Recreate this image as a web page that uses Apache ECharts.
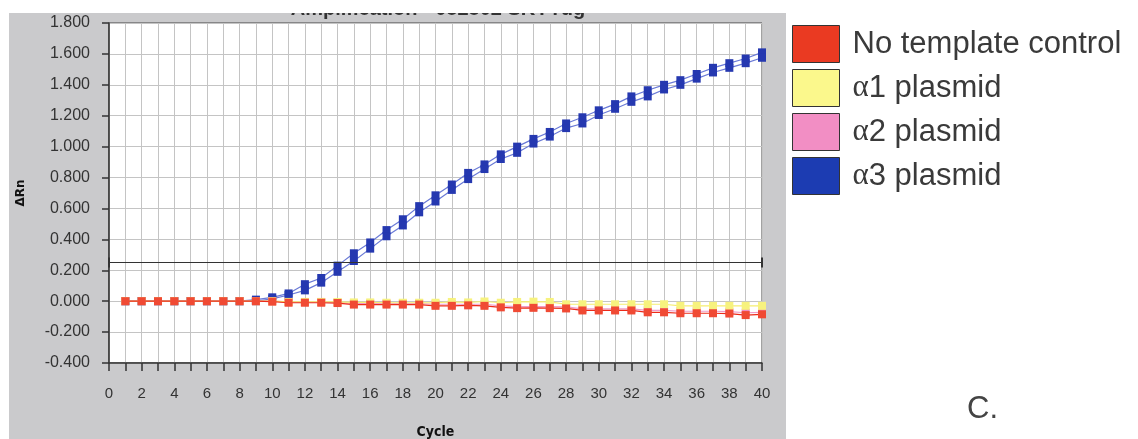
<!DOCTYPE html>
<html><head><meta charset="utf-8">
<script src="https://cdn.jsdelivr.net/npm/echarts@6/dist/echarts.min.js"></script>
<style>html,body{margin:0;padding:0;background:#fff}#c{width:1138px;height:439px}</style>
</head><body><div id="c"></div>
<script>
var cycles = [1,2,3,4,5,6,7,8,9,10,11,12,13,14,15,16,17,18,19,20,21,22,23,24,25,26,27,28,29,30,31,32,33,34,35,36,37,38,39,40];
var alpha3A = [0,0,0,0,0,0,0,0,0.01,0.025,0.05,0.11,0.15,0.23,0.31,0.38,0.46,0.53,0.615,0.685,0.755,0.83,0.885,0.95,1.0,1.05,1.095,1.15,1.19,1.235,1.275,1.325,1.365,1.4,1.43,1.47,1.51,1.54,1.57,1.61];
var alpha3B = [0,0,0,0,0,0,0,0,0.0,0.015,0.04,0.07,0.12,0.19,0.26,0.34,0.42,0.49,0.575,0.645,0.72,0.79,0.855,0.92,0.96,1.02,1.065,1.12,1.15,1.205,1.245,1.29,1.325,1.37,1.4,1.44,1.48,1.51,1.54,1.575];
var alpha2 = [0,0,0,0,0,0,0,0,0,0,-0.005,-0.005,-0.005,-0.008,-0.015,-0.015,-0.015,-0.015,-0.015,-0.02,-0.02,-0.02,-0.02,-0.03,-0.035,-0.035,-0.035,-0.037,-0.05,-0.05,-0.05,-0.05,-0.06,-0.06,-0.065,-0.065,-0.065,-0.068,-0.075,-0.072];
var alpha1 = [0,0,0,0,0,0,0,0,0,0,-0.005,-0.005,-0.005,-0.005,-0.008,-0.008,-0.01,-0.01,-0.01,-0.01,-0.005,-0.008,-0.002,-0.01,-0.005,-0.003,-0.005,-0.02,-0.02,-0.02,-0.02,-0.02,-0.02,-0.02,-0.03,-0.03,-0.03,-0.03,-0.03,-0.03];
var ntc = [0,0,0,0,0,0,0,0,0,-0.003,-0.01,-0.01,-0.01,-0.012,-0.022,-0.022,-0.022,-0.022,-0.022,-0.03,-0.03,-0.027,-0.03,-0.04,-0.045,-0.043,-0.045,-0.047,-0.06,-0.06,-0.06,-0.06,-0.072,-0.072,-0.078,-0.078,-0.078,-0.08,-0.09,-0.085];
var threshold = 0.254;
var xTicks = [0,2,4,6,8,10,12,14,16,18,20,22,24,26,28,30,32,34,36,38,40];
var yTicks = [-0.4,-0.2,0,0.2,0.4,0.6,0.8,1.0,1.2,1.4,1.6,1.8];
var legendNames = ['No template control','α1 plasmid','α2 plasmid','α3 plasmid'];

function pairs(v){ return cycles.map(function(c,i){ return [c, v[i]]; }); }
function ser(name, data, lineColor, markColor, z){
  return {type:'line', name:name, data:pairs(data), symbol:'rect', symbolSize:8, z:z,
    lineStyle:{color:lineColor, width:1.2}, itemStyle:{color:markColor}, animation:false};
}
var chart = echarts.init(document.getElementById('c'));
var series = [
  ser('α3 plasmid', alpha3A, '#6a7ad6', '#2538b0', 3),
  ser('α3 plasmid', alpha3B, '#6a7ad6', '#2538b0', 3),
  ser('α2 plasmid', alpha2, '#f09ac8', '#f08cc0', 4),
  ser('α1 plasmid', alpha1, '#f5ee70', '#f7f27e', 5),
  ser('No template control', ntc, '#ec2a1a', '#f04a34', 6)
];
series[0].markLine = {silent:true, symbol:['rect','rect'], symbolSize:[10,2], label:{show:false},
  lineStyle:{color:'#333', width:1.2, type:'solid'}, data:[{yAxis:threshold}], animation:false};
chart.setOption({
  backgroundColor:'#ffffff',
  animation:false,
  graphic:[
    {type:'rect', shape:{x:9,y:13,width:777,height:426}, style:{fill:'#cacacc'}, z:-10},
    {type:'text', x:438, y:19, style:{text:'Amplification - 082802 SKYYug', font:'bold 20px "Liberation Sans", Arial', fill:'#333', textAlign:'center', textVerticalAlign:'bottom'}, z:-5},
    {type:'rect', shape:{x:0,y:0,width:1138,height:13}, style:{fill:'#ffffff'}, z:-4},
    {type:'text', x:967, y:394, style:{text:'C.', font:'31px "Liberation Sans", Arial', fill:'#444'}}
  ],
  legend:{
    orient:'vertical', left:787, top:20, itemWidth:47, itemHeight:37, itemGap:6,
    icon:'rect', selectedMode:false,
    textStyle:{fontSize:31, color:'#3a3a3a', fontFamily:'"Liberation Sans", Arial', padding:[0,0,0,8],
      rich:{a:{fontSize:31, fontFamily:'"Liberation Serif", serif', color:'#3a3a3a'}, t:{fontSize:31, color:'#3a3a3a', fontFamily:'"Liberation Sans", Arial'}}},
    formatter:function(n){ if(n.charAt(0)==='α'){ return '{a|α}{t|'+n.slice(1)+'}'; } return n; },
    data:[
      {name:legendNames[0], itemStyle:{color:'#ea3a22', borderColor:'#333', borderWidth:1}},
      {name:legendNames[1], itemStyle:{color:'#fbf88c', borderColor:'#333', borderWidth:1}},
      {name:legendNames[2], itemStyle:{color:'#f28ec4', borderColor:'#333', borderWidth:1}},
      {name:legendNames[3], itemStyle:{color:'#1c3cb2', borderColor:'#333', borderWidth:1}}
    ]
  },
  grid:{left:109, right:376, top:23, bottom:76, show:true, backgroundColor:'#ffffff', borderColor:'#444', borderWidth:1, outerBoundsMode:'none', containLabel:false},
  xAxis:{type:'value', min:0, max:40, interval:2,
    name:'Cycle', nameLocation:'middle', nameGap:62,
    nameTextStyle:{fontSize:14, fontWeight:'bold', color:'#111', fontFamily:'"DejaVu Sans Condensed", "Liberation Sans Narrow", Arial'},
    axisLine:{show:true, onZero:false, lineStyle:{color:'#333', width:1.5}},
    axisTick:{show:true, inside:false, length:8, lineStyle:{color:'#333', width:1.5}},
    minorTick:{show:true, splitNumber:2, length:8, lineStyle:{color:'#333', width:1.5}},
    splitLine:{show:true, lineStyle:{color:'#c4c4c4'}},
    minorSplitLine:{show:true, lineStyle:{color:'#c4c4c4'}},
    axisLabel:{fontSize:15, color:'#333', margin:23, fontFamily:'"Liberation Sans", Arial',
      formatter:function(v){ return xTicks.indexOf(v)>=0 ? String(v) : ''; }}
  },
  yAxis:{type:'value', min:-0.4, max:1.8, interval:0.2,
    name:'ΔRn', nameLocation:'middle', nameGap:82, nameRotate:90,
    nameTextStyle:{fontSize:12, fontWeight:'bold', color:'#111', fontFamily:'"DejaVu Sans", Arial'},
    axisLine:{show:true, onZero:false, lineStyle:{color:'#333', width:1.5}},
    axisTick:{show:true, inside:false, length:7, lineStyle:{color:'#333', width:1.5}},
    splitLine:{show:true, lineStyle:{color:'#c4c4c4'}},
    axisLabel:{fontSize:16, color:'#333', margin:19, fontFamily:'"Liberation Sans", Arial',
      formatter:function(v){ var r=Math.round(v*1000)/1000; return yTicks.some(function(t){return Math.abs(t-r)<1e-6;}) ? r.toFixed(3) : ''; }}
  },
  series:series
});
</script></body></html>
